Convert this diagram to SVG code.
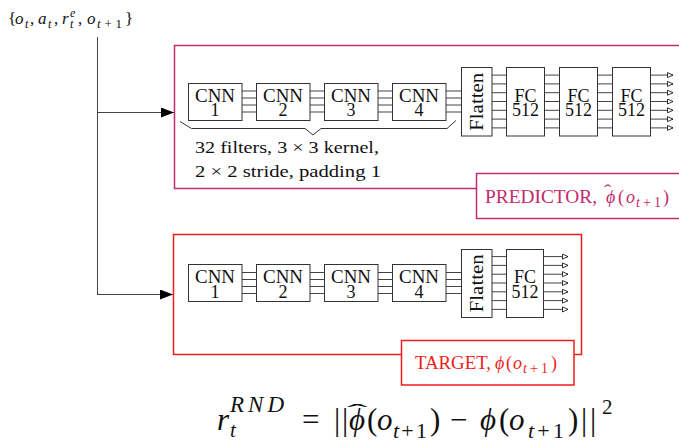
<svg xmlns="http://www.w3.org/2000/svg" width="679" height="442" viewBox="0 0 679 442">
<style>
.bg{fill:#fff}
.box{fill:#fff;stroke:#333;stroke-width:1}
.t{font-family:"Liberation Serif","DejaVu Serif",serif;fill:#111}
.c{text-anchor:middle;font-size:18px}
.i{font-style:italic}
.wire{stroke:#444;stroke-width:1;fill:none}
.pred{stroke:#c42a6e;stroke-width:1.5;fill:none}
.predl{stroke:#c42a6e;stroke-width:1.5;fill:#fff}
.predt{fill:#c42a6e}
.targ{stroke:#f01c1c;stroke-width:1.5;fill:none}
.targl{stroke:#f01c1c;stroke-width:1.5;fill:#fff}
.targt{fill:#f01c1c}
</style>
<defs>
<marker id="ain" markerUnits="userSpaceOnUse" markerWidth="14" markerHeight="12" refX="13" refY="5" orient="auto">
<path d="M0,0 L13,5 L0,10 z" fill="#000"/>
</marker>
<marker id="aout" markerUnits="userSpaceOnUse" markerWidth="8" markerHeight="7" refX="6" refY="3" orient="auto">
<path d="M0.5,0.5 L6,3 L0.5,5.5 z" fill="#fff" stroke="#000" stroke-width="0.8"/>
</marker>
</defs>
<rect class="bg" x="0" y="0" width="679" height="442"/>

<g id="input-label" class="t" font-size="17">
<text x="8" y="24">{</text>
<text x="15" y="24" class="i">o</text>
<text x="25" y="27.5" class="i" font-size="12">t</text>
<text x="30" y="24">,</text>
<text x="38" y="24" class="i">a</text>
<text x="48" y="27.5" class="i" font-size="12">t</text>
<text x="54" y="24">,</text>
<text x="62" y="24" class="i">r</text>
<text x="70" y="17" class="i" font-size="12">e</text>
<text x="70" y="28" class="i" font-size="12">t</text>
<text x="78" y="24">,</text>
<text x="87" y="24" class="i">o</text>
<text x="97" y="28" font-size="13" textLength="25" lengthAdjust="spacing"><tspan class="i">t</tspan>+1</text>
<text x="125" y="24">}</text>
</g>

<g id="predictor">
<rect class="pred" x="174.5" y="45.5" width="514" height="143"/>
</g>
<g id="target">
<rect class="targ" x="173.5" y="234.5" width="408" height="120"/>
</g>

<g id="connectors">
<path class="wire" d="M97.5,37 V295"/>
<path class="wire" d="M97.5,112.5 H174" marker-end="url(#ain)"/>
<path class="wire" d="M97.5,294.5 H173" marker-end="url(#ain)"/>
<path class="wire" d="M242,91 H256 M242,98 H256 M242,105 H256 M242,112 H256
M310,91 H324 M310,98 H324 M310,105 H324 M310,112 H324
M378,91 H392 M378,98 H392 M378,105 H392 M378,112 H392
M446,91 H461 M446,98 H461 M446,105 H461 M446,112 H461"/>
<path class="wire" d="M492,75.1 H506.5 M492,83.9 H506.5 M492,92.7 H506.5 M492,101.5 H506.5 M492,110.3 H506.5 M492,119.1 H506.5 M492,127.9 H506.5
M544.5,75.1 H559.5 M544.5,83.9 H559.5 M544.5,92.7 H559.5 M544.5,101.5 H559.5 M544.5,110.3 H559.5 M544.5,119.1 H559.5 M544.5,127.9 H559.5
M597.5,75.1 H612.5 M597.5,83.9 H612.5 M597.5,92.7 H612.5 M597.5,101.5 H612.5 M597.5,110.3 H612.5 M597.5,119.1 H612.5 M597.5,127.9 H612.5"/>
<g class="wire" marker-end="url(#aout)">
<path d="M650.5,75.1 H673"/><path d="M650.5,83.9 H673"/><path d="M650.5,92.7 H673"/><path d="M650.5,101.5 H673"/><path d="M650.5,110.3 H673"/><path d="M650.5,119.1 H673"/><path d="M650.5,127.9 H673"/>
</g>
<path class="wire" d="M242,272.5 H256 M242,279.5 H256 M242,286.5 H256 M242,293.5 H256
M310,272.5 H324 M310,279.5 H324 M310,286.5 H324 M310,293.5 H324
M378,272.5 H392 M378,279.5 H392 M378,286.5 H392 M378,293.5 H392
M446,272.5 H461 M446,279.5 H461 M446,286.5 H461 M446,293.5 H461"/>
<path class="wire" d="M492,256.6 H506 M492,265.4 H506 M492,274.2 H506 M492,283 H506 M492,291.8 H506 M492,300.6 H506 M492,309.4 H506"/>
<g class="wire" marker-end="url(#aout)">
<path d="M543,256.6 H568"/><path d="M543,265.4 H568"/><path d="M543,274.2 H568"/><path d="M543,283 H568"/><path d="M543,291.8 H568"/><path d="M543,300.6 H568"/><path d="M543,309.4 H568"/>
</g>
</g>

<g id="p-cnn1"><rect class="box" x="188.5" y="83.5" width="53.5" height="37"/><text class="t c" x="215" y="101.5" textLength="40" lengthAdjust="spacingAndGlyphs">CNN</text><text class="t c" x="215" y="116">1</text></g>
<g id="p-cnn2"><rect class="box" x="256.5" y="83.5" width="53.5" height="37"/><text class="t c" x="283" y="101.5" textLength="40" lengthAdjust="spacingAndGlyphs">CNN</text><text class="t c" x="283" y="116">2</text></g>
<g id="p-cnn3"><rect class="box" x="324.5" y="83.5" width="53.5" height="37"/><text class="t c" x="351" y="101.5" textLength="40" lengthAdjust="spacingAndGlyphs">CNN</text><text class="t c" x="351" y="116">3</text></g>
<g id="p-cnn4"><rect class="box" x="392.5" y="83.5" width="53.5" height="37"/><text class="t c" x="419" y="101.5" textLength="40" lengthAdjust="spacingAndGlyphs">CNN</text><text class="t c" x="419" y="116">4</text></g>
<g id="p-flatten"><rect class="box" x="461.5" y="67.5" width="30.5" height="68.5"/><text class="t c" transform="translate(483,101.8) rotate(-90)" x="0" y="0" textLength="58" lengthAdjust="spacingAndGlyphs">Flatten</text></g>
<g id="p-fc1"><rect class="box" x="506.5" y="67.5" width="38" height="68.5"/><text class="t c" x="525.5" y="101.5">FC</text><text class="t c" x="525.5" y="116">512</text></g>
<g id="p-fc2"><rect class="box" x="559.5" y="67.5" width="38" height="68.5"/><text class="t c" x="578.5" y="101.5">FC</text><text class="t c" x="578.5" y="116">512</text></g>
<g id="p-fc3"><rect class="box" x="612.5" y="67.5" width="38" height="68.5"/><text class="t c" x="631.5" y="101.5">FC</text><text class="t c" x="631.5" y="116">512</text></g>

<g id="cnn-note">
<path d="M180,121.5 L191.5,128.5 L305,128.5 L313,135 L321,128.5 L447,128.5 L456,120.5" fill="none" stroke="#333" stroke-width="1"/>
<text class="t" x="195" y="153" font-size="16.5" textLength="184" lengthAdjust="spacingAndGlyphs">32 filters, 3 × 3 kernel,</text>
<text class="t" x="195" y="177" font-size="16.5" textLength="186" lengthAdjust="spacingAndGlyphs">2 × 2 stride, padding 1</text>
</g>

<g id="predictor-label" class="t predt" font-size="18">
<rect class="predl" x="476.5" y="173.5" width="210" height="45"/>
<text x="485" y="202.5" textLength="112" lengthAdjust="spacingAndGlyphs">PREDICTOR,</text>
<text x="606" y="202.5" class="i">ϕ</text>
<text x="604" y="196" font-size="16" transform="translate(604,0) scale(1.4,1) translate(-604,0)">ˆ</text>
<text x="618" y="202.5">(</text>
<text x="626" y="202.5" class="i">o</text>
<text x="636" y="206.5" font-size="14" textLength="25" lengthAdjust="spacing"><tspan class="i">t</tspan>+1</text>
<text x="663" y="202.5">)</text>
</g>

<g id="t-cnn1"><rect class="box" x="188.5" y="264.5" width="53.5" height="37"/><text class="t c" x="215" y="283" textLength="40" lengthAdjust="spacingAndGlyphs">CNN</text><text class="t c" x="215" y="297.5">1</text></g>
<g id="t-cnn2"><rect class="box" x="256.5" y="264.5" width="53.5" height="37"/><text class="t c" x="283" y="283" textLength="40" lengthAdjust="spacingAndGlyphs">CNN</text><text class="t c" x="283" y="297.5">2</text></g>
<g id="t-cnn3"><rect class="box" x="324.5" y="264.5" width="53.5" height="37"/><text class="t c" x="351" y="283" textLength="40" lengthAdjust="spacingAndGlyphs">CNN</text><text class="t c" x="351" y="297.5">3</text></g>
<g id="t-cnn4"><rect class="box" x="392.5" y="264.5" width="53.5" height="37"/><text class="t c" x="419" y="283" textLength="40" lengthAdjust="spacingAndGlyphs">CNN</text><text class="t c" x="419" y="297.5">4</text></g>
<g id="t-flatten"><rect class="box" x="461.5" y="249.5" width="30.5" height="68"/><text class="t c" transform="translate(483,283.3) rotate(-90)" x="0" y="0" textLength="58" lengthAdjust="spacingAndGlyphs">Flatten</text></g>
<g id="t-fc1"><rect class="box" x="506.5" y="249.5" width="37" height="68"/><text class="t c" x="525" y="283">FC</text><text class="t c" x="525" y="297.5">512</text></g>

<g id="target-label" class="t targt" font-size="18">
<rect class="targl" x="401.5" y="340.5" width="172.5" height="44.5"/>
<text x="415" y="368.5" textLength="76" lengthAdjust="spacingAndGlyphs">TARGET,</text>
<text x="495" y="368.5" class="i">ϕ</text>
<text x="506" y="368.5">(</text>
<text x="513" y="368.5" class="i">o</text>
<text x="523" y="372.5" font-size="14" textLength="25" lengthAdjust="spacing"><tspan class="i">t</tspan>+1</text>
<text x="551" y="368.5">)</text>
</g>

<g id="formula" class="t" font-size="31">
<text x="217" y="430" class="i">r</text>
<text x="230" y="412" class="i" font-size="23" textLength="54" lengthAdjust="spacing">RND</text>
<text x="230" y="437" class="i" font-size="21">t</text>
<text x="302" y="430">=</text>
<text x="334" y="430">|</text>
<text x="342" y="430">|</text>
<text x="349" y="430" class="i">ϕ</text>
<text x="347" y="419" font-size="22" transform="translate(347,0) scale(2.8,1) translate(-347,0)">ˆ</text>
<text x="367" y="430">(</text>
<text x="377" y="430" class="i">o</text>
<text x="393" y="438" font-size="22" textLength="34" lengthAdjust="spacing"><tspan class="i">t</tspan>+1</text>
<text x="430" y="430">)</text>
<text x="450" y="430">−</text>
<text x="480" y="430" class="i">ϕ</text>
<text x="499" y="430">(</text>
<text x="509" y="430" class="i">o</text>
<text x="528" y="438" font-size="22" textLength="36" lengthAdjust="spacing"><tspan class="i">t</tspan>+1</text>
<text x="568" y="430">)</text>
<text x="581" y="430">|</text>
<text x="590" y="430">|</text>
<text x="602" y="414" font-size="21">2</text>
</g>
</svg>
